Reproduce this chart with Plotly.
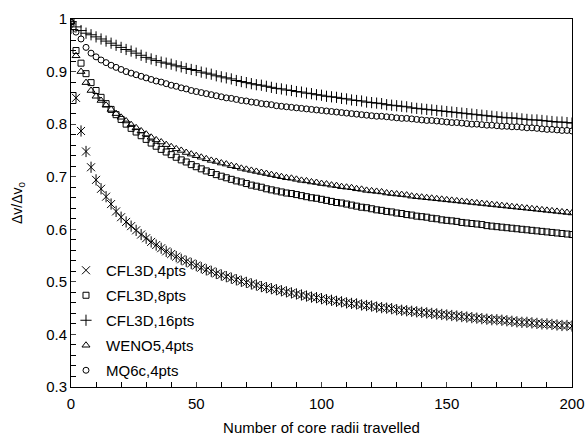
import plotly.graph_objects as go

radii = list(range(0, 201, 2))

cfl3d_4pts = [
    .982, .850, .787, .748, .718, .694, .677, .662, .648, .634,
    .623, .614, .606, .598, .590, .583, .576, .570, .564, .558,
    .553, .548, .543, .539, .535, .531, .527, .523, .520, .516,
    .513, .510, .507, .504, .501, .499, .496, .494, .491, .489,
    .487, .485, .483, .481, .479, .477, .475, .473, .471, .470,
    .468, .466, .465, .463, .462, .460, .459, .458, .456, .455,
    .454, .452, .451, .450, .449, .447, .446, .445, .444, .443,
    .442, .441, .440, .439, .438, .437, .436, .435, .434, .433,
    .432, .431, .430, .429, .428, .428, .427, .426, .425, .424,
    .423, .423, .422, .421, .420, .420, .419, .418, .417, .417,
    .416]

cfl3d_8pts = [
    .995, .940, .916, .896, .879, .864, .851, .839, .828, .818,
    .809, .800, .792, .785, .778, .771, .764, .758, .752, .747,
    .742, .737, .732, .728, .723, .719, .715, .711, .708, .704,
    .701, .698, .695, .692, .690, .687, .684, .682, .680, .677,
    .675, .673, .671, .669, .668, .666, .664, .662, .660, .659,
    .657, .655, .653, .651, .650, .648, .646, .644, .642, .641,
    .639, .637, .636, .634, .633, .631, .630, .628, .627, .625,
    .624, .623, .621, .620, .618, .617, .616, .615, .613, .612,
    .611, .610, .609, .607, .606, .605, .604, .603, .602, .601,
    .600, .599, .598, .597, .596, .595, .594, .593, .592, .591,
    .590]

cfl3d_16pts = [
    .995, .985, .978, .973, .970, .966, .962, .958, .954, .950,
    .946, .942, .939, .935, .931, .927, .924, .921, .918, .916,
    .914, .911, .909, .906, .904, .902, .899, .897, .895, .892,
    .890, .888, .886, .883, .881, .879, .877, .875, .874, .872,
    .870, .868, .867, .865, .864, .862, .861, .859, .858, .856,
    .855, .853, .852, .851, .849, .848, .846, .845, .844, .842,
    .841, .840, .839, .837, .836, .835, .834, .833, .831, .830,
    .829, .828, .827, .826, .825, .824, .823, .822, .821, .820,
    .819, .818, .817, .816, .815, .814, .813, .812, .812, .811,
    .810, .809, .808, .808, .807, .806, .805, .804, .804, .803,
    .802]

weno5_4pts = [
    .995, .930, .900, .879, .864, .853, .845, .836, .828, .820,
    .813, .806, .799, .793, .787, .781, .775, .770, .766, .761,
    .757, .753, .750, .746, .743, .740, .737, .734, .731, .729,
    .726, .724, .721, .719, .716, .714, .712, .710, .708, .706,
    .704, .702, .700, .698, .697, .695, .693, .692, .690, .689,
    .687, .686, .684, .683, .681, .680, .679, .677, .676, .674,
    .673, .672, .671, .669, .668, .667, .666, .665, .663, .662,
    .661, .660, .659, .658, .657, .656, .655, .654, .653, .652,
    .651, .650, .649, .648, .647, .646, .645, .644, .643, .642,
    .641, .640, .639, .638, .637, .636, .635, .634, .633, .632,
    .631]

mq6c_4pts = [
    .994, .975, .962, .946, .935, .928, .922, .917, .912, .908,
    .904, .900, .897, .894, .891, .888, .885, .882, .880, .877,
    .874, .872, .869, .867, .864, .862, .860, .858, .856, .854,
    .852, .850, .849, .847, .845, .844, .842, .841, .839, .838,
    .837, .835, .834, .833, .832, .831, .830, .829, .828, .827,
    .826, .825, .824, .823, .822, .821, .820, .819, .818, .817,
    .816, .815, .815, .814, .813, .812, .811, .811, .810, .809,
    .808, .807, .807, .806, .805, .804, .803, .803, .802, .801,
    .800, .800, .799, .798, .798, .797, .796, .796, .795, .795,
    .794, .793, .793, .792, .791, .790, .790, .789, .788, .788,
    .787]

series_names = ["CFL3D,4pts", "CFL3D,8pts", "CFL3D,16pts", "WENO5,4pts", "MQ6c,4pts"]
series_values = [cfl3d_4pts, cfl3d_8pts, cfl3d_16pts, weno5_4pts, mq6c_4pts]
symbols = ["x-thin-open", "square-open", "cross-thin-open", "triangle-up-open", "circle-open"]
sizes = [8, 6, 8, 7, 6]

FONT = "Liberation Sans, Arial, Helvetica, sans-serif"
fig = go.Figure()
for i, (name, vals, sym, sz) in enumerate(zip(series_names, series_values, symbols, sizes)):
    fig.add_trace(go.Scatter(
        x=radii, y=vals, mode="markers", name=name, legendgroup=name,
        marker=dict(symbol=sym, size=sz, color="black", line=dict(color="black", width=1)),
    ))
    if i == 0:
        fig.add_trace(go.Scatter(
            x=radii, y=vals, mode="markers", name=name, legendgroup=name, showlegend=False,
            marker=dict(symbol="line-ns-open", size=sz, color="black", line=dict(color="black", width=1)),
        ))

fig.update_layout(
    width=585, height=436,
    margin=dict(l=71, r=13, t=19, b=49),
    paper_bgcolor="white", plot_bgcolor="white",
    font=dict(family=FONT, size=15, color="black"),
    showlegend=True,
    legend=dict(x=-0.01, y=0.0, xanchor="left", yanchor="bottom",
                bgcolor="rgba(0,0,0,0)", font=dict(size=15), tracegroupgap=2.5,
                itemwidth=30),
)
fig.update_xaxes(
    range=[0, 200], tickvals=[0, 50, 100, 150, 200], ticks="inside", ticklen=5,
    ticklabeloverflow="allow", ticklabelstandoff=3, automargin=False,
    showline=True, linecolor="black", linewidth=1, mirror=True, showgrid=False, zeroline=False,
    minor=dict(dtick=10, ticks="inside", ticklen=5, tickcolor="black", showgrid=False),
    title=dict(text="Number of core radii travelled", font=dict(size=15), standoff=12),
    tickfont=dict(size=15),
)
fig.update_yaxes(
    range=[0.3, 1.0], dtick=0.1, tick0=0.3, ticks="inside", ticklen=5, automargin=False,
    showline=True, linecolor="black", linewidth=1, mirror=True, showgrid=False, zeroline=False,
    minor=dict(dtick=0.02, ticks="inside", ticklen=5, tickcolor="black", showgrid=False),
    title=dict(text="Δv/Δv<sub>0</sub>", font=dict(size=14), standoff=20),
    tickfont=dict(size=15),
)

fig.write_html("out.html")
